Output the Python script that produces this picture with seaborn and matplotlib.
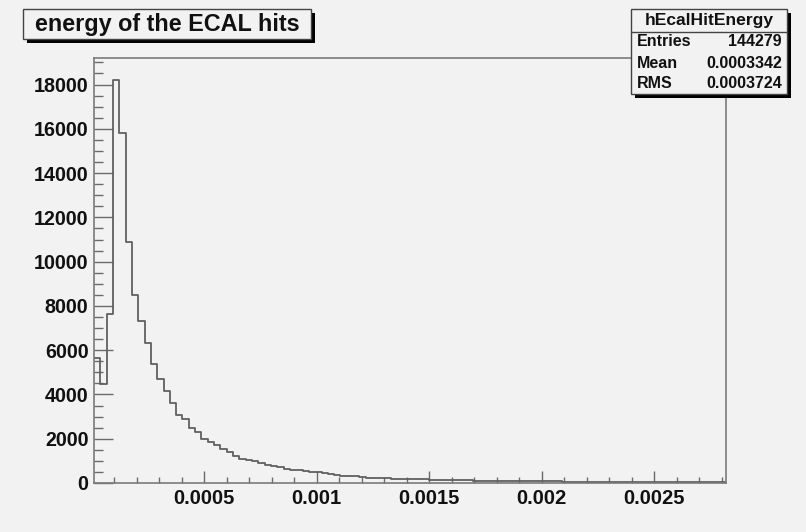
import numpy as np
import pandas as pd
import matplotlib
matplotlib.use("Agg")
import matplotlib.pyplot as plt
from matplotlib.patches import Rectangle
from matplotlib.lines import Line2D
from matplotlib.ticker import FixedLocator, MultipleLocator
import seaborn as sns

# ---------------- data ----------------
E_MIN = 0.00001
E_MAX = 0.00282
N_BINS = 100
counts = [
    5656, 4466, 7620, 18217, 15810, 10905, 8480, 7330, 6321, 5371,
    4720, 4149, 3610, 3065, 2869, 2505, 2300, 1991, 1855, 1738,
    1557, 1403, 1222, 1072, 1027, 1013, 905, 801, 756, 710,
    650, 606, 575, 543, 516, 498, 452, 394, 362, 335,
    303, 300, 271, 244, 228, 215, 208, 196, 190, 178,
    172, 165, 160, 152, 146, 140, 133, 128, 122, 118,
    112, 108, 104, 100, 97, 93, 90, 86, 83, 80,
    78, 75, 72, 70, 67, 65, 63, 61, 58, 56,
    55, 53, 51, 50, 48, 47, 45, 44, 43, 42,
    40, 39, 38, 37, 36, 35, 34, 33, 32, 31,
]
x_tick_values = [0.0005, 0.001, 0.0015, 0.002, 0.0025]
x_tick_labels = ["0.0005", "0.001", "0.0015", "0.002", "0.0025"]
y_tick_values = [0, 2000, 4000, 6000, 8000, 10000, 12000, 14000, 16000, 18000]
y_tick_labels = ["0", "2000", "4000", "6000", "8000", "10000", "12000", "14000", "16000", "18000"]
title_text = "energy of the ECAL hits"
stats_name = "hEcalHitEnergy"
stats_labels = ["Entries", "Mean", "RMS"]
stats_values = ["144279", "0.0003342", "0.0003724"]

edges = np.linspace(E_MIN, E_MAX, N_BINS + 1)
centers = 0.5 * (edges[:-1] + edges[1:])
df = pd.DataFrame({"energy": centers, "count": counts})

# ---------------- style ----------------
sns.set_style("white")
BG = "#f2f2f2"
FONT = ["Liberation Sans", "DejaVu Sans"]
plt.rcParams["font.family"] = FONT
plt.rcParams["font.weight"] = "bold"

W, H = 806, 532
fig = plt.figure(figsize=(W / 100, H / 100), dpi=100, facecolor=BG)


def fx(px):
    return px / W


def fy(py):
    return 1 - py / H


ax_l, ax_r, ax_t, ax_b = 94, 726, 58, 483
ax = fig.add_axes([fx(ax_l), fy(ax_b), fx(ax_r - ax_l), (ax_b - ax_t) / H])
ax.set_facecolor(BG)

sns.histplot(data=df, x="energy", weights="count", bins=N_BINS,
             binrange=(E_MIN, E_MAX),
             element="step", fill=False, color="#606060", linewidth=1.3, ax=ax)

ax.set_xlim(E_MIN, E_MAX)
ax.set_ylim(0, 19200)
ax.set_xlabel("")
ax.set_ylabel("")

for s in ax.spines.values():
    s.set_color("#7a7a7a")
    s.set_linewidth(1.2)

ax.xaxis.set_major_locator(FixedLocator(x_tick_values))
ax.set_xticklabels(x_tick_labels)
ax.xaxis.set_minor_locator(MultipleLocator(0.0001))
ax.yaxis.set_major_locator(FixedLocator(y_tick_values))
ax.set_yticklabels(y_tick_labels)
ax.yaxis.set_minor_locator(MultipleLocator(500))

ax.tick_params(axis="both", which="both", direction="in", colors="#6a6a6a",
               labelcolor="#111111", width=1.0)
ax.tick_params(axis="x", which="major", length=8.6, pad=4.5, labelsize=14.5, bottom=True, top=False)
ax.tick_params(axis="x", which="minor", length=4.3, bottom=True, top=False)
ax.tick_params(axis="y", which="major", length=13.7, pad=4, labelsize=14.2, left=True, right=False)
ax.tick_params(axis="y", which="minor", length=6.8, left=True, right=False)
for lbl in ax.get_xticklabels() + ax.get_yticklabels():
    lbl.set_fontweight("bold")


def box(x0, y0, x1, y1, shadow=4):
    # shadow
    fig.patches.append(Rectangle((fx(x0 + shadow), fy(y1 + shadow)),
                                 fx(x1 - x0), (y1 - y0) / H,
                                 transform=fig.transFigure, facecolor="black",
                                 edgecolor="none", zorder=10))
    fig.patches.append(Rectangle((fx(x0), fy(y1)), fx(x1 - x0), (y1 - y0) / H,
                                 transform=fig.transFigure, facecolor=BG,
                                 edgecolor="#444444", linewidth=1.0, zorder=11))


# title box
box(23, 9, 311, 39)
fig.text(fx(167), fy(24.5), title_text, ha="center", va="center",
         fontsize=16.8, fontweight="bold", color="#111111", zorder=12)

# stats box
box(631, 9, 787, 94)
fig.lines.append(Line2D([fx(631), fx(787)], [fy(32), fy(32)], transform=fig.transFigure,
                        color="#444444", linewidth=1.0, zorder=12))
fig.text(fx(709), fy(20.5), stats_name, ha="center", va="center",
         fontsize=12.6, fontweight="bold", color="#111111", zorder=12)
rows_y = [42, 63, 84]
for lab, val, yy in zip(stats_labels, stats_values, rows_y):
    fig.text(fx(637), fy(yy), lab, ha="left", va="center",
             fontsize=11.5, fontweight="bold", color="#111111", zorder=12)
    fig.text(fx(782), fy(yy), val, ha="right", va="center",
             fontsize=11.5, fontweight="bold", color="#111111", zorder=12)

fig.savefig("out.png", dpi=100, facecolor=BG)
